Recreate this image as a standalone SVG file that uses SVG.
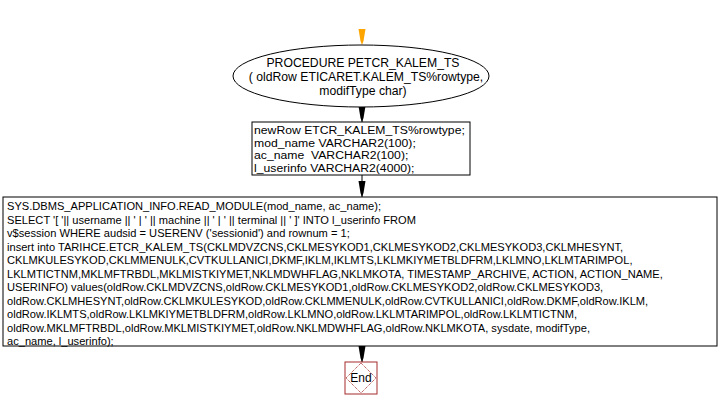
<svg xmlns="http://www.w3.org/2000/svg" width="721" height="409" viewBox="0 0 721 409">
<style>
text{font-family:"Liberation Sans",Arial,sans-serif;font-size:11.1px;fill:#000;white-space:pre}
.c{text-anchor:middle;font-size:12.2px}
.d{font-size:11px}
.box{fill:#fff;stroke:#000;stroke-width:1}
.ln{stroke:#000;stroke-width:1;fill:none}
</style>
<defs>
<path id="ah" d="M-3.5,-16 L3.5,-16 L1.5,-4 L0,0 L-1.5,-4 Z"/>
</defs>
<rect width="721" height="409" fill="#fff"/>
<g id="connectors">
<use href="#ah" x="362" y="45" fill="#ffa500"/>
<line class="ln" x1="362" y1="107" x2="362" y2="122"/>
<use href="#ah" x="362" y="122" fill="#000"/>
<line class="ln" x1="362" y1="175" x2="362" y2="197"/>
<use href="#ah" x="362" y="197" fill="#000"/>
<line class="ln" x1="362" y1="346" x2="362" y2="362"/>
<use href="#ah" x="362" y="362" fill="#000"/>
</g>
<g id="start">
<ellipse cx="361" cy="76" rx="128" ry="31" class="box"/>
<text class="c" x="363" y="67">PROCEDURE PETCR_KALEM_TS</text>
<text class="c" x="366" y="81">( oldRow ETICARET.KALEM_TS%rowtype,</text>
<text class="c" x="363" y="95">modifType char)</text>
</g>
<g id="decl">
<rect x="252" y="122" width="218" height="53" class="box"/>
<g transform="translate(254,0) scale(1.11,1)">
<text class="d" x="0" y="134" xml:space="preserve">newRow ETCR_KALEM_TS%rowtype;</text>
<text class="d" x="0" y="146.7" xml:space="preserve">mod_name VARCHAR2(100);</text>
<text class="d" x="0" y="159.4" xml:space="preserve">ac_name  VARCHAR2(100);</text>
<text class="d" x="0" y="172.1" xml:space="preserve">l_userinfo VARCHAR2(4000);</text>
</g>
</g>
<g id="body">
<rect x="3" y="197" width="714" height="149" class="box"/>
<text x="7" y="210">SYS.DBMS_APPLICATION_INFO.READ_MODULE(mod_name, ac_name);</text>
<text x="7" y="223.5">SELECT '[ '|| username || ' | ' || machine || ' | ' || terminal || ' ]' INTO l_userinfo FROM</text>
<text x="7" y="237">v$session WHERE audsid = USERENV ('sessionid') and rownum = 1;</text>
<text x="7" y="250.5">insert into TARIHCE.ETCR_KALEM_TS(CKLMDVZCNS,CKLMESYKOD1,CKLMESYKOD2,CKLMESYKOD3,CKLMHESYNT,</text>
<text x="7" y="264">CKLMKULESYKOD,CKLMMENULK,CVTKULLANICI,DKMF,IKLM,IKLMTS,LKLMKIYMETBLDFRM,LKLMNO,LKLMTARIMPOL,</text>
<text x="7" y="277.5">LKLMTICTNM,MKLMFTRBDL,MKLMISTKIYMET,NKLMDWHFLAG,NKLMKOTA, TIMESTAMP_ARCHIVE, ACTION, ACTION_NAME,</text>
<text x="7" y="291">USERINFO) values(oldRow.CKLMDVZCNS,oldRow.CKLMESYKOD1,oldRow.CKLMESYKOD2,oldRow.CKLMESYKOD3,</text>
<text x="7" y="304.5">oldRow.CKLMHESYNT,oldRow.CKLMKULESYKOD,oldRow.CKLMMENULK,oldRow.CVTKULLANICI,oldRow.DKMF,oldRow.IKLM,</text>
<text x="7" y="318">oldRow.IKLMTS,oldRow.LKLMKIYMETBLDFRM,oldRow.LKLMNO,oldRow.LKLMTARIMPOL,oldRow.LKLMTICTNM,</text>
<text x="7" y="331.5">oldRow.MKLMFTRBDL,oldRow.MKLMISTKIYMET,oldRow.NKLMDWHFLAG,oldRow.NKLMKOTA, sysdate, modifType,</text>
<text x="7" y="345">ac_name, l_userinfo);</text>
</g>
<g id="end">
<rect x="345" y="362" width="32" height="32" fill="#fff" stroke="#a52a2a" stroke-width="1"/>
<polygon points="361,363 376,378 361,393 346,378" fill="none" stroke="#a52a2a" stroke-width="1" stroke-dasharray="1,1"/>
<text x="361" y="382" style="font-size:12px;text-anchor:middle">End</text>
</g>
</svg>
